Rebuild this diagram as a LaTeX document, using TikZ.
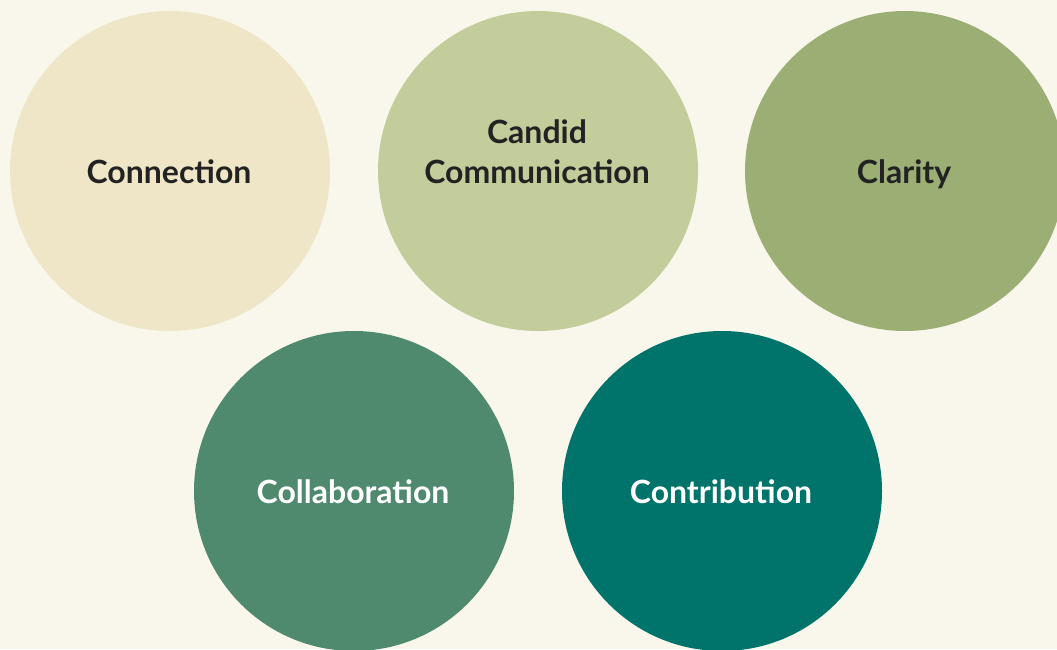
\documentclass[tikz,border=0pt]{standalone}
\usepackage{fontspec}
\setmainfont{Lato}
\definecolor{bg}{HTML}{F9F7EB}
\definecolor{cA}{HTML}{EEE6C6}
\definecolor{cB}{HTML}{C3CC9B}
\definecolor{cC}{HTML}{9BAF75}
\definecolor{cD}{HTML}{4F8A6E}
\definecolor{cE}{HTML}{00736A}
\definecolor{tdark}{HTML}{222222}
\begin{document}
\begin{tikzpicture}[x=1pt,y=1pt,
  circ/.style={circle,minimum size=320pt,inner sep=0pt},
  lbl/.style={align=center,inner sep=0pt,font=\bfseries\fontsize{32}{40}\selectfont}]
\fill[bg] (0,0) rectangle (1057,649);
\clip (0,0) rectangle (1057,649);
\useasboundingbox (0,0) rectangle (1057,649);
\node[circ,fill=cA] (n1) at (170,478) {};
\node[circ,fill=cB] (n2) at (538,478) {};
\node[circ,fill=cC] (n3) at (905,478) {};
\node[circ,fill=cD] (n4) at (354,158) {};
\node[circ,fill=cE] (n5) at (722,158) {};
\node[lbl,text=tdark,anchor=base] (t1) at ([xshift=-1,yshift=-12.5]n1.center) {Connection};
\node[lbl,text=tdark] (t2) at ([xshift=-1,yshift=19]n2.center) {Candid\\Communication};
\node[lbl,text=tdark,anchor=base] (t3) at ([xshift=-1,yshift=-12.5]n3.center) {Clarity};
\node[lbl,text=white,anchor=base] (t4) at ([xshift=-1,yshift=-12.5]n4.center) {Collaboration};
\node[lbl,text=white,anchor=base] (t5) at ([xshift=-1,yshift=-12.5]n5.center) {Contribution};
\end{tikzpicture}
\end{document}
